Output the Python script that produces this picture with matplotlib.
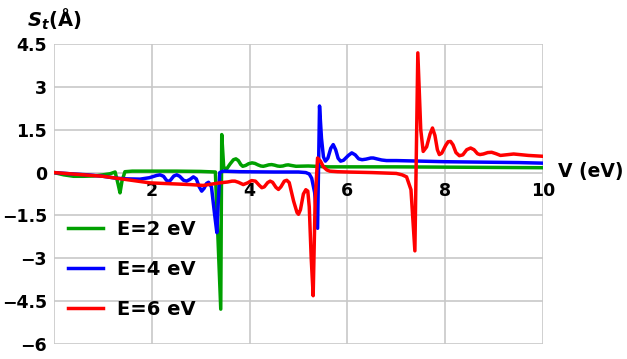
import matplotlib
matplotlib.use("Agg")
import matplotlib.pyplot as plt

plt.rcParams['font.family'] = ['DejaVu Sans']
plt.rcParams['font.weight'] = 'bold'
plt.rcParams['mathtext.fontset'] = 'custom'
plt.rcParams['mathtext.it'] = 'DejaVu Sans:italic:bold'
plt.rcParams['mathtext.rm'] = 'DejaVu Sans:bold'

# E = 2 eV
x_e2 = [0, 0.2, 0.4, 0.6, 0.8, 1.0, 1.15, 1.25, 1.31, 1.35, 1.39, 1.45, 1.6, 2.0, 2.5, 3.0, 3.3,
        3.41, 3.43, 3.47, 3.52, 3.60, 3.67, 3.72, 3.77, 3.82, 3.86, 3.92, 3.98, 4.05, 4.11, 4.17,
        4.23, 4.28, 4.33, 4.39, 4.45, 4.51, 4.57, 4.62, 4.68, 4.74, 4.79, 4.85, 4.95, 5.2, 5.6,
        6.0, 7.0, 8.0, 9.0, 10.0]
y_e2 = [0, -0.08, -0.13, -0.13, -0.12, -0.08, -0.04, 0.02, -0.4, -0.71, -0.3, 0.03, 0.05, 0.05,
        0.05, 0.04, 0.02, -4.78, 1.33, 0.2, 0.1, 0.3, 0.45, 0.48, 0.42, 0.28, 0.22, 0.25, 0.31,
        0.34, 0.32, 0.27, 0.23, 0.22, 0.24, 0.27, 0.28, 0.26, 0.23, 0.22, 0.23, 0.26, 0.27, 0.25,
        0.22, 0.23, 0.2, 0.2, 0.2, 0.19, 0.18, 0.17]

# E = 4 eV
x_e4 = [0, 0.4, 0.7, 1.0, 1.28, 1.5, 1.76, 1.95, 2.1, 2.17, 2.24, 2.30, 2.34, 2.38, 2.45, 2.51,
        2.57, 2.65, 2.71, 2.78, 2.85, 2.91, 2.97, 3.02, 3.07, 3.12, 3.16, 3.22, 3.28, 3.33, 3.36,
        3.39, 3.46, 3.8, 4.5, 5.0, 5.15, 5.22, 5.27, 5.33, 5.39, 5.43, 5.47, 5.51, 5.55, 5.60,
        5.66, 5.71, 5.76, 5.81, 5.86, 5.92, 6.02, 6.09, 6.16, 6.23, 6.3, 6.38, 6.48, 6.53, 6.6,
        6.7, 6.8, 7.0, 7.5, 8.0, 8.5, 9.0, 9.5, 10.0]
y_e4 = [0, -0.05, -0.08, -0.13, -0.2, -0.22, -0.23, -0.18, -0.1, -0.08, -0.13, -0.27, -0.31,
        -0.27, -0.12, -0.08, -0.13, -0.27, -0.3, -0.24, -0.15, -0.22, -0.5, -0.65, -0.55, -0.38,
        -0.34, -0.5, -1.4, -2.1, -1.0, 0.0, 0.05, 0.03, 0.02, 0.02, 0.0, -0.05, -0.2, -0.7, -1.95,
        2.33, 1.2, 0.55, 0.4, 0.5, 0.85, 0.98, 0.8, 0.5, 0.4, 0.43, 0.6, 0.69, 0.62, 0.48, 0.45,
        0.47, 0.51, 0.51, 0.48, 0.44, 0.42, 0.42, 0.4, 0.38, 0.37, 0.36, 0.35, 0.33]

# E = 6 eV
x_e6 = [0, 1.0, 1.96, 2.78, 3.05, 3.39, 3.55, 3.64, 3.7, 3.77, 3.87, 3.96, 4.04, 4.12, 4.2,
        4.25, 4.3, 4.37, 4.42, 4.47, 4.54, 4.59, 4.64, 4.71, 4.76, 4.81, 4.9, 4.97, 5.0, 5.04,
        5.1, 5.15, 5.19, 5.22, 5.26, 5.30, 5.34, 5.39, 5.45, 5.51, 5.58, 5.64, 5.8, 6.0, 6.5, 7.0,
        7.12, 7.21, 7.30, 7.38, 7.44, 7.50, 7.55, 7.62, 7.69, 7.74, 7.79, 7.84, 7.88, 7.93, 8.01,
        8.06, 8.11, 8.16, 8.22, 8.29, 8.36, 8.44, 8.52, 8.59, 8.66, 8.71, 8.78, 8.87, 8.95, 9.04,
        9.13, 9.4, 9.7, 10.0]
y_e6 = [0, -0.13, -0.36, -0.42, -0.45, -0.36, -0.33, -0.3, -0.3, -0.34, -0.42, -0.36, -0.28,
        -0.3, -0.45, -0.53, -0.5, -0.35, -0.3, -0.34, -0.52, -0.59, -0.5, -0.3, -0.27, -0.35,
        -1.0, -1.4, -1.46, -1.3, -0.75, -0.6, -0.65, -1.2, -3.0, -4.31, -1.0, 0.51, 0.4, 0.2,
        0.09, 0.05, 0.03, 0.02, 0.0, -0.03, -0.08, -0.15, -0.6, -2.74, 4.19, 1.5, 0.74, 0.9,
        1.35, 1.56, 1.3, 0.8, 0.63, 0.68, 0.95, 1.08, 1.09, 0.97, 0.7, 0.59, 0.62, 0.8, 0.86,
        0.8, 0.66, 0.63, 0.65, 0.7, 0.71, 0.66, 0.6, 0.65, 0.6, 0.57]

series = [(x_e2, y_e2, '#00a000', 'E=2 eV'),
          (x_e4, y_e4, '#0000ff', 'E=4 eV'),
          (x_e6, y_e6, '#ff0000', 'E=6 eV')]

x_ticks = [2, 4, 6, 8, 10]
y_ticks = [4.5, 3, 1.5, 0, -1.5, -3, -4.5, -6]
y_tick_labels = ['4.5', '3', '1.5', '0', '\u22121.5', '\u22123', '\u22124.5', '\u22126']

fig = plt.figure(figsize=(6.27, 3.59), dpi=100)
ax = fig.add_axes([54 / 627, 15 / 359, 489 / 627, 300 / 359])

for xs, ys, col, lab in series:
    ax.plot(xs, ys, color=col, lw=2.5, label=lab, solid_joinstyle='round')

ax.set_xlim(0, 10)
ax.set_ylim(-6, 4.5)
for xg in [0, 2, 4, 6, 8, 10]:
    ax.axvline(xg, color='#c8c8c8', lw=1.2, zorder=0)
for yg in y_ticks:
    ax.axhline(yg, color='#c8c8c8', lw=1.2, zorder=0)

for s in ax.spines.values():
    s.set_visible(False)
ax.spines['bottom'].set_position(('data', 0))

ax.set_xticks(x_ticks)
ax.set_xticklabels([str(t) for t in x_ticks])
ax.set_yticks(y_ticks)
ax.set_yticklabels(y_tick_labels)
ax.tick_params(axis='x', length=0, pad=7, labelsize=12.5)
ax.tick_params(axis='y', length=0, pad=5, labelsize=12.5)

ax.text(10.3, 0.02, 'V (eV)', fontsize=13.5, fontweight='bold', ha='left', va='center',
        clip_on=False)
fig.text(27 / 627, 1 - 19 / 359, r'$S_t$(Å)', fontsize=14, fontweight='bold',
         ha='left', va='center')

leg = ax.legend(loc='upper left', bbox_to_anchor=(0.012, 0.44), frameon=False,
                fontsize=14, handlelength=1.8, handletextpad=0.75, labelspacing=1.08,
                borderaxespad=0)

fig.savefig('out.png', dpi=100)
